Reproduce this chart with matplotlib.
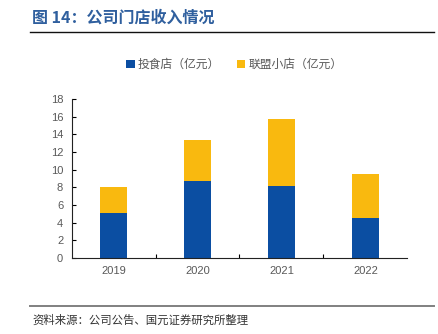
import numpy as np
import matplotlib.pyplot as plt
from matplotlib.lines import Line2D

plt.rcParams['font.family'] = ['Noto Sans CJK SC', 'DejaVu Sans']

years = ['2019', '2020', '2021', '2022']
direct_store = [5.1, 8.7, 8.1, 4.5]      # 投食店（亿元）
franchise_store = [2.9, 4.7, 7.6, 5.0]   # 联盟小店（亿元）

blue = '#0B4EA2'
yellow = '#F9B90F'
grey = '#595959'

fig = plt.figure(figsize=(4.39, 3.34), dpi=100)
ax = fig.add_axes([0.163, 0.2275, 0.765, 0.476])

x = np.arange(len(years))
ax.bar(x, direct_store, width=0.33, color=blue, label='投食店（亿元）')
ax.bar(x, franchise_store, width=0.33, bottom=direct_store, color=yellow,
       label='联盟小店（亿元）')

ax.set_xlim(-0.5, 3.5)
ax.set_ylim(0, 18)
ax.set_yticks(range(0, 19, 2))
ax.set_xticks(x)
ax.set_xticklabels(years)
ax.set_xticks(x[:-1] + 0.5, minor=True)
ax.tick_params(axis='x', which='major', length=0, pad=6, labelsize=8, labelcolor=grey)
ax.tick_params(axis='x', which='minor', direction='in', length=3, width=0.8)
ax.tick_params(axis='y', direction='in', length=3, width=0.8, pad=6,
               labelsize=8, labelcolor=grey)
for lbl in ax.get_xticklabels() + ax.get_yticklabels():
    lbl.set_family('Liberation Sans')
for s in ['top', 'right']:
    ax.spines[s].set_visible(False)
ax.spines['left'].set_color('#222222')
ax.spines['bottom'].set_color('#222222')

ax.legend(loc='lower center', bbox_to_anchor=(0.485, 1.11), ncol=2, frameon=False,
          fontsize=8.5, handlelength=0.7, handleheight=0.7, handletextpad=0.3,
          columnspacing=1.4, labelcolor=grey)

# header, rules and source note
fig.text(0.073, 0.948, '图 14：公司门店收入情况', color='#2F5F9E', fontsize=11.5,
         fontweight='bold', va='center', ha='left')
fig.add_artist(Line2D([0.068, 0.989], [0.904, 0.904], color='#111111', lw=1.0))
fig.add_artist(Line2D([0.068, 0.989], [0.085, 0.085], color='#808080', lw=1.4))
fig.text(0.073, 0.042, '资料来源：公司公告、国元证券研究所整理', color='#333333',
         fontsize=8.2, va='center', ha='left')

fig.savefig('out.png', dpi=100)
